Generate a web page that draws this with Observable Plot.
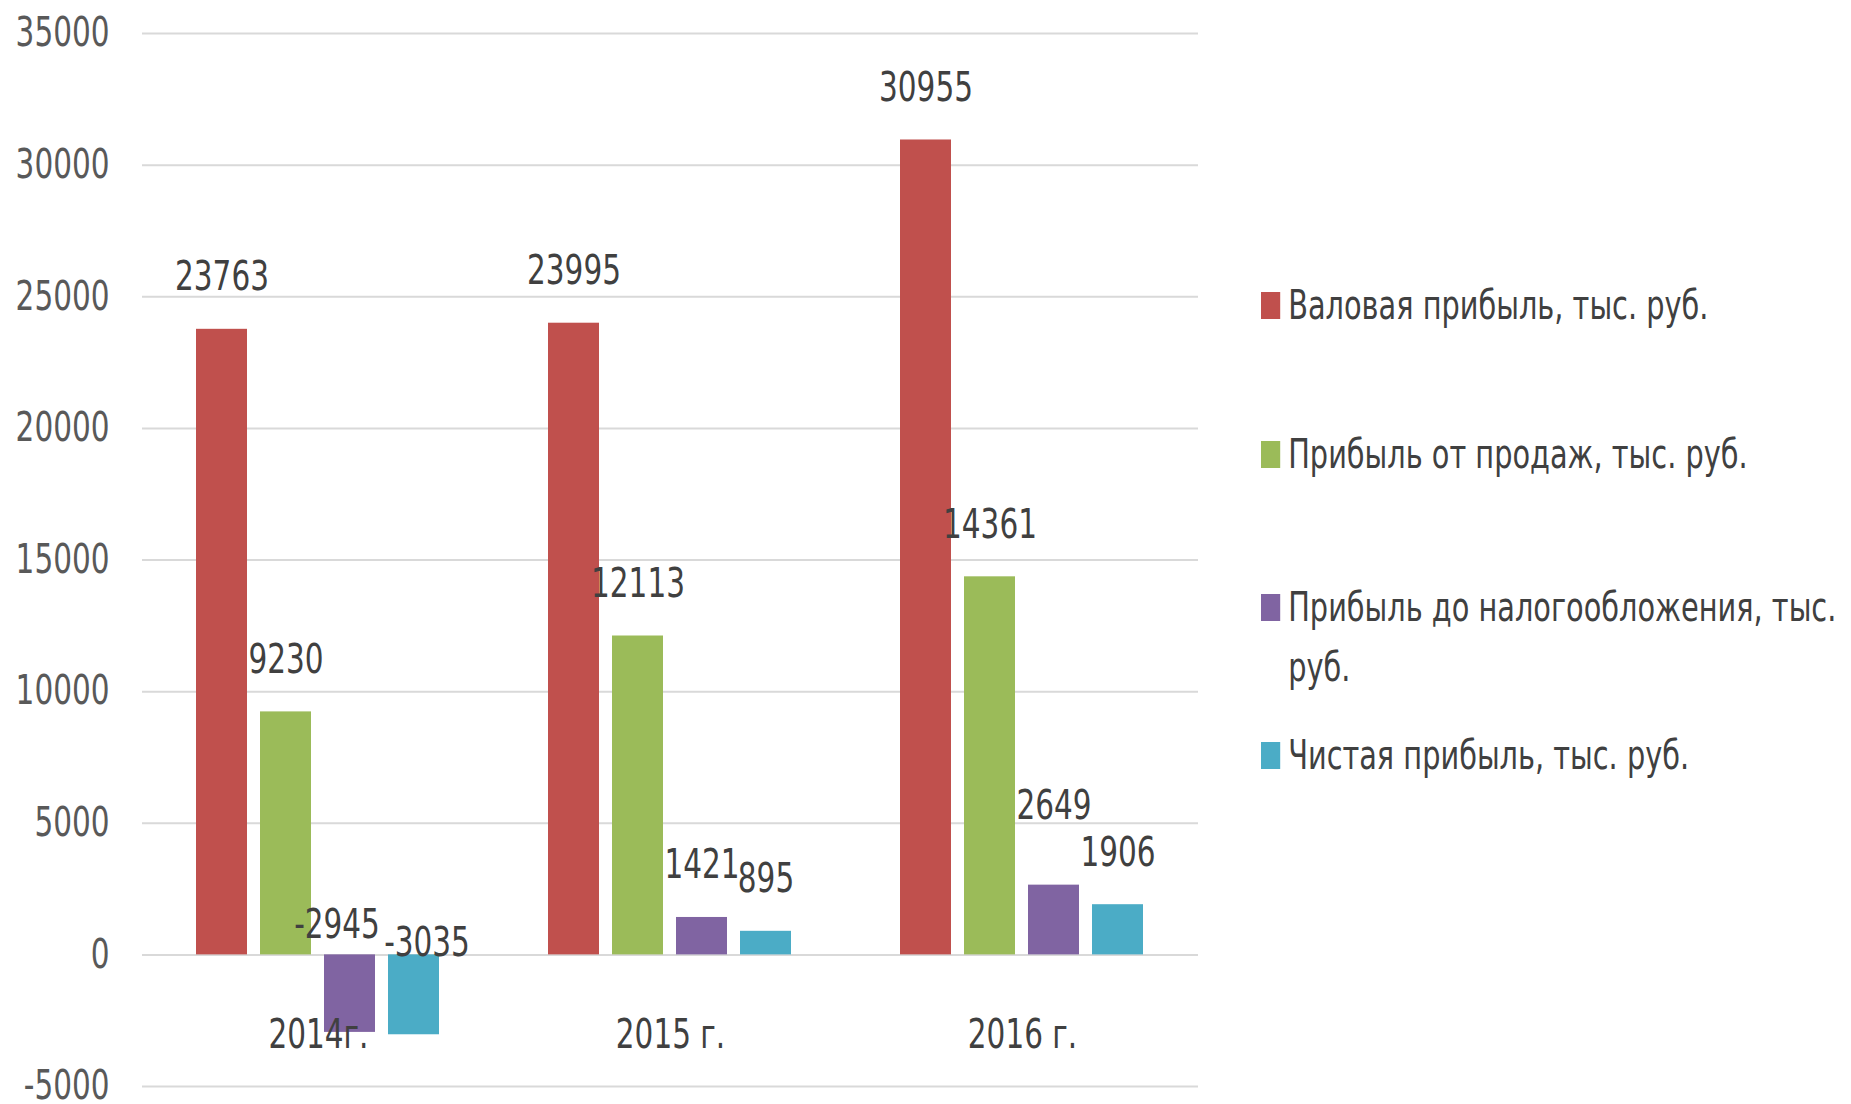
<!DOCTYPE html>
<html>
<head>
<meta charset="utf-8">
<script src="https://cdn.jsdelivr.net/npm/d3@7"></script>
<script src="https://cdn.jsdelivr.net/npm/@observablehq/plot@0.6"></script>
<style>
  body { margin: 0; background: #fff; }
  #wrap { position: relative; width: 1851px; height: 1104px; overflow: hidden;
          font-family: "Liberation Sans Narrow", "DejaVu Sans Condensed", sans-serif; }
  #chart { position: absolute; left: 0; top: 0; }
  .lg-item { position: absolute; left: 1261px; width: 740px; display: flex; align-items: flex-start;
             font-size: 40px; line-height: 60px; color: #404040;
             transform: scaleX(0.8); transform-origin: left top; }
  .lg-sw { flex: 0 0 auto; width: 24px; height: 27px; margin-top: 17px; margin-right: 10px; }
</style>
</head>
<body>
<div id="wrap">
  <div id="chart"></div>
  <div id="legend"></div>
</div>
<script>
const years = ["2014г.", "2015 г.", "2016 г."];
const series = [
  "Валовая прибыль, тыс. руб.",
  "Прибыль от продаж, тыс. руб.",
  "Прибыль до налогообложения, тыс. руб.",
  "Чистая прибыль, тыс. руб."
];
const grossProfit = [23763, 23995, 30955];
const salesProfit = [9230, 12113, 14361];
const preTaxProfit = [-2945, 1421, 2649];
const netProfit = [-3035, 895, 1906];
const yTicks = [-5000, 0, 5000, 10000, 15000, 20000, 25000, 30000, 35000];
const colors = ["#c0504d", "#9bbb59", "#8064a2", "#4bacc6"];

const seriesValues = [grossProfit, salesProfit, preTaxProfit, netProfit];
const data = years.flatMap((yr, i) =>
  seriesValues.map((arr, j) => ({ year: yr, series: series[j], value: arr[i] }))
);

const font = '"Liberation Sans Narrow", "DejaVu Sans Condensed", sans-serif';
const raised = d => d.series === series[2] && d.year === years[2];

const chart = Plot.plot({
  width: 1851,
  height: 1104,
  marginLeft: 142,
  marginRight: 653,
  marginTop: 33,
  marginBottom: 18,
  style: { fontFamily: font, fontSize: "40px", background: "transparent", overflow: "visible" },
  fx: { domain: years, padding: 0, axis: null },
  x: { domain: series, paddingInner: 0.2, paddingOuter: 0.84, axis: null },
  y: { domain: [-5000, 35000], axis: null },
  color: { domain: series, range: colors },
  marks: [
    Plot.gridY(yTicks, { stroke: "#d9d9d9", strokeOpacity: 1, strokeWidth: 2 }),
    Plot.axisY(yTicks, { tickSize: 0, tickPadding: 33, fill: "#595959", fontSize: 40, label: null,
      tickFormat: d => String(d) }),
    Plot.barY(data, { fx: "year", x: "series", y: "value", fill: "series", inset: 0 }),
    Plot.text(data.filter(d => d.value >= 0 && !raised(d)), {
      fx: "year", x: "series", y: "value", text: d => String(d.value),
      dy: -52, fill: "#404040", fontSize: 40
    }),
    Plot.text(data.filter(d => d.value >= 0 && raised(d)), {
      fx: "year", x: "series", y: "value", text: d => String(d.value),
      dy: -79, fill: "#404040", fontSize: 40
    }),
    Plot.text(data.filter(d => d.value < 0 && d.series === series[2]), {
      fx: "year", x: "series", y: 0, text: d => String(d.value),
      dy: -30, dx: -13, fill: "#404040", fontSize: 40
    }),
    Plot.text(data.filter(d => d.value < 0 && d.series === series[3]), {
      fx: "year", x: "series", y: 0, text: d => String(d.value),
      dy: -12, dx: 13, fill: "#404040", fontSize: 40
    }),
    Plot.text(years, {
      fx: d => d, text: d => d, frameAnchor: "bottom", lineAnchor: "middle", dy: -51,
      fill: "#404040", fontSize: 40
    })
  ]
});
document.getElementById("chart").appendChild(chart);

// narrow the glyphs to match the condensed face of the original
chart.querySelectorAll("text").forEach(t => {
  const len = t.getComputedTextLength();
  if (len > 0) {
    t.setAttribute("textLength", (len * 0.82).toFixed(1));
    t.setAttribute("lengthAdjust", "spacingAndGlyphs");
  }
});

// legend
const legendTops = [275, 424, 577, 725];
const legend = document.getElementById("legend");
series.forEach((s, i) => {
  const item = document.createElement("div");
  item.className = "lg-item";
  item.style.top = legendTops[i] + "px";
  const sw = document.createElement("span");
  sw.className = "lg-sw";
  sw.style.background = colors[i];
  const tx = document.createElement("span");
  tx.textContent = s;
  item.appendChild(sw);
  item.appendChild(tx);
  legend.appendChild(item);
});
</script>
</body>
</html>
